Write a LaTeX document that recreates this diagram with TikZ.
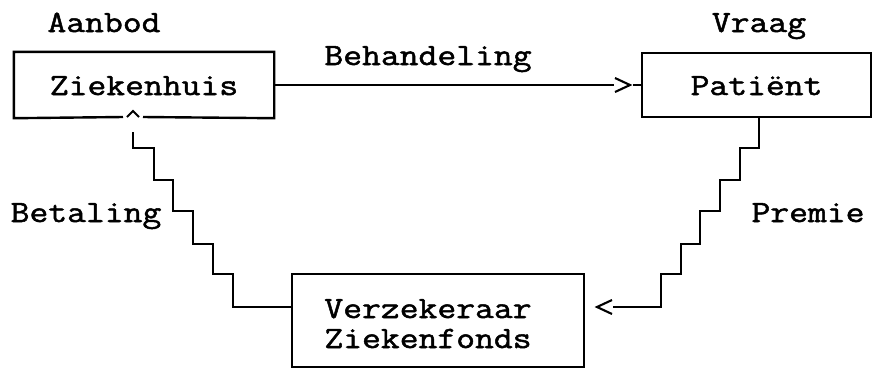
\documentclass[tikz,border=0pt]{standalone}
\usepackage{fontspec}
\newfontfamily\cmono[FakeBold=1.6,FakeStretch=1.18]{Latin Modern Mono}
\usetikzlibrary{calc}
\begin{document}
\begin{tikzpicture}[x=1pt,y=-1pt,line width=2.4pt,
  lbl/.style={font=\fontsize{31}{30}\selectfont\cmono,anchor=base,inner sep=0pt},
  boxnode/.style={inner sep=0pt,font=\fontsize{31}{30}\selectfont\cmono,text height=20pt,text depth=0pt},
  tip/.style={line width=2.1pt}]
\useasboundingbox (0,0) rectangle (872,368);
% boxes
\node[boxnode,minimum width=258pt,minimum height=64pt] (z) at (144,85) {Ziekenhuis};
\node[boxnode,draw,minimum width=229pt,minimum height=64pt] (p) at (756.5,85) {Patiënt};
\node[boxnode,draw,minimum width=292pt,minimum height=93pt] (v) at (438,320.5) {};
\node[lbl] (v1) at (428,318) {Verzekeraar};
\node[lbl] (v2) at (428,348) {Ziekenfonds};
% Ziekenhuis outline with caret gap
\coordinate (cap) at (133,117);
\draw ($(cap)+(-10,0)$) -- (z.south west) -- (z.north west) -- (z.north east) -- (z.south east) -- ($(cap)+(10,0)$);
\draw[tip] ($(cap)+(-6,0)$) -- ($(cap)+(0,-6)$) -- ($(cap)+(6,0)$);
% labels
\node[lbl] (aanbod) at (104,32) {Aanbod};
\node[lbl] (vraag) at (759,32) {Vraag};
\node[lbl] (beh) at (428,65) {Behandeling};
\node[lbl] (bet) at (86,222) {Betaling};
\node[lbl] (prem) at (808,222) {Premie};
% Behandeling connector
\coordinate (bh) at (614,85);
\draw (z.east) -- (bh);
\draw[tip] ($(bh)+(1,-7)$) -- ($(bh)+(16,0)$) -- ($(bh)+(1,7)$);
\draw ($(bh)+(19,0)$) -- (p.west);
% Betaling staircase
\coordinate (bs) at (133,132);
\draw (bs) -- ++(0,16) -- ++(21,0) -- ++(0,32) -- ++(19,0) -- ++(0,31) -- ++(20,0) -- ++(0,33) -- ++(20,0) -- ++(0,30) -- ++(20,0) -- ++(0,33) coordinate (bend) -- (bend -| v.west);
% Premie staircase
\coordinate (ps) at (759,117);
\draw (ps) -- ++(0,31) -- ++(-19,0) -- ++(0,32) -- ++(-20,0) -- ++(0,31) -- ++(-20,0) -- ++(0,33) -- ++(-19,0) -- ++(0,30) -- ++(-20,0) -- ++(0,33) coordinate (pend) -- ++(-48,0) coordinate (pe);
\draw[tip] ($(pe)+(-1,-7)$) -- ($(pe)+(-16,0)$) -- ($(pe)+(-1,7)$);
\end{tikzpicture}
\end{document}
